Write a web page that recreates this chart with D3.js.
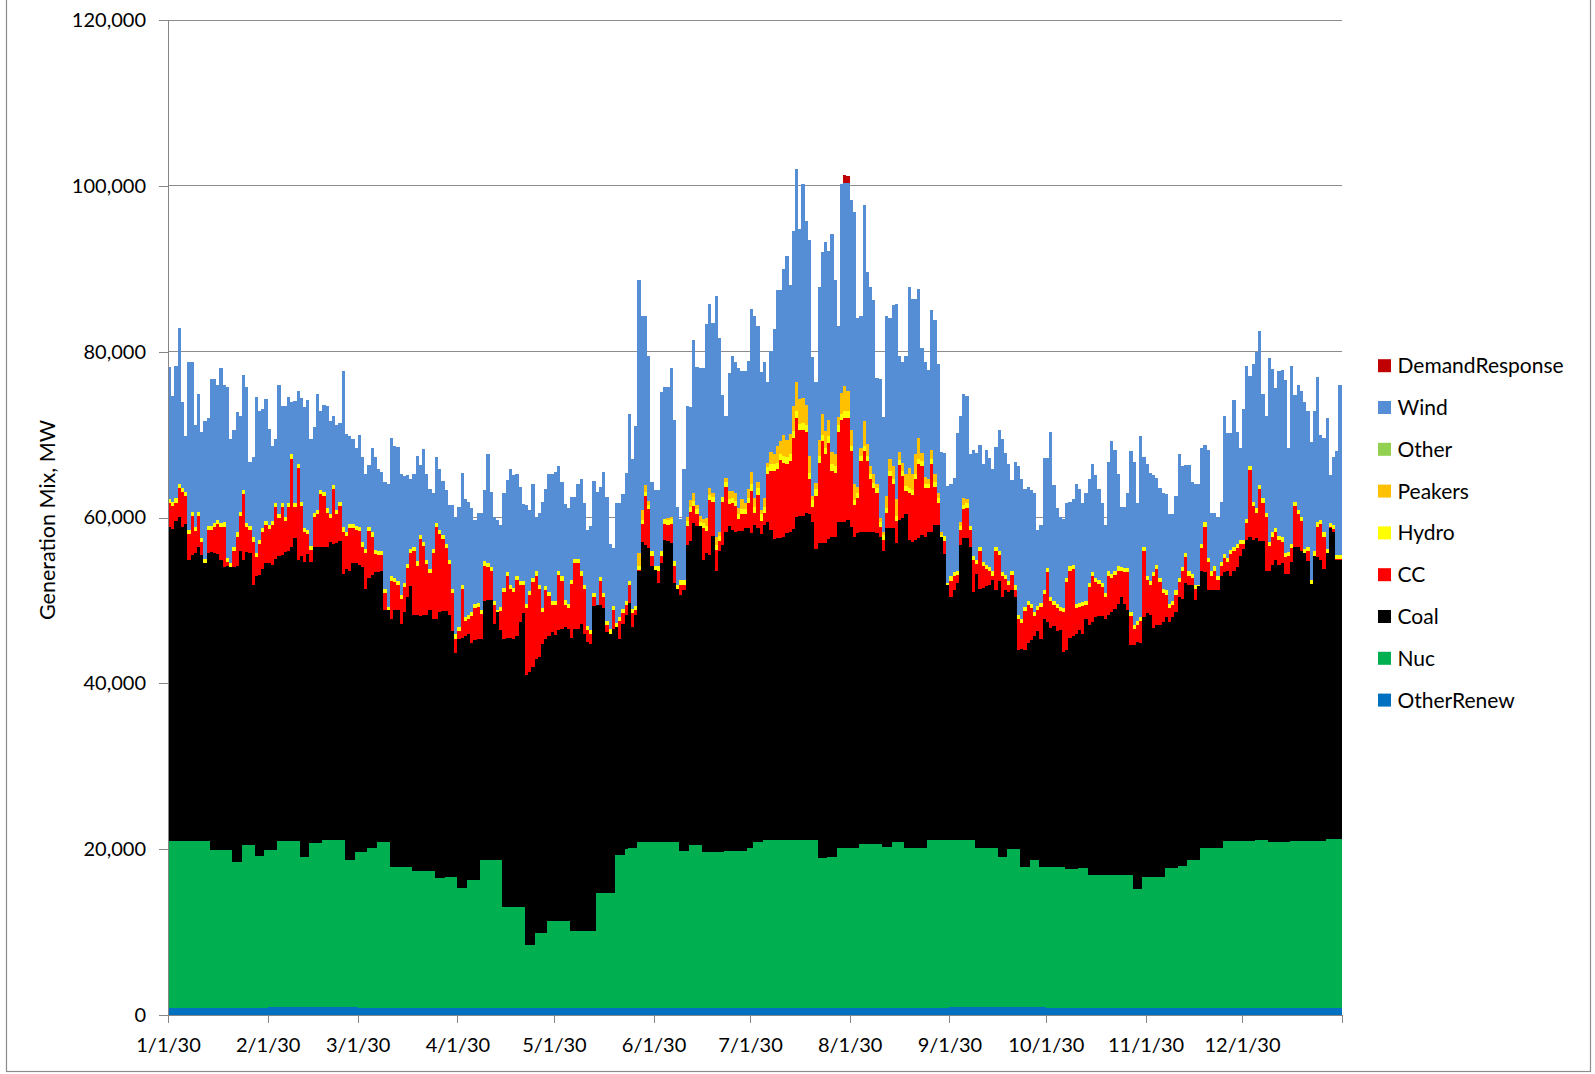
<!DOCTYPE html>
<html>
<head>
<meta charset="utf-8">
<script src="https://cdn.jsdelivr.net/npm/d3@7"></script>
<style>
  body { margin: 0; background: #fff; }
  svg { display: block; }
  text { font-family: Lato, "DejaVu Sans", sans-serif; fill: #000; }
</style>
</head>
<body>
<svg id="chart" width="1595" height="1074"></svg>
<script>
// stack order, bottom to top
const seriesNames = ["OtherRenew", "Nuc", "Coal", "CC", "Hydro", "Peakers", "Other", "Wind", "DemandResponse"];
const seriesColors = {
  OtherRenew: "#0070C0", Nuc: "#00B050", Coal: "#000000", CC: "#FF0000", Hydro: "#FFFF00",
  Peakers: "#FFC000", Other: "#92D050", Wind: "#558ED5", DemandResponse: "#C00000"
};
const legendNames = ["DemandResponse", "Wind", "Other", "Peakers", "Hydro", "CC", "Coal", "Nuc", "OtherRenew"];
const yTicks = [0, 20000, 40000, 60000, 80000, 100000, 120000];
const yTitle = "Generation Mix, MW";

// levels, thousand MW, one per day of 2030
// top of the coal block (OtherRenew + Nuc + Coal)
const coalTopK = [
  58.9, 58.6, 59.6, 60.1, 58.9, 59.2, 54.9, 55.5, 55.7, 56.4,
  55.5, 54.5, 55.7, 55.8, 55.7, 55.6, 54.9, 54.0, 54.1, 54.0,
  54.0, 54.2, 56.0, 54.9, 55.8, 55.7, 51.8, 52.9, 53.1, 53.8,
  54.5, 54.5, 54.3, 55.0, 55.4, 55.5, 55.8, 56.0, 56.5, 57.5,
  54.9, 55.4, 54.6, 55.6, 54.6, 56.4, 56.4, 56.4, 56.4, 56.4,
  57.0, 56.8, 56.9, 57.2, 53.2, 53.8, 53.6, 54.5, 54.5, 54.3,
  54.0, 51.4, 52.7, 53.1, 53.4, 53.4, 53.5, 48.9, 48.8, 47.8,
  48.8, 48.9, 47.2, 48.6, 50.4, 51.7, 48.3, 48.2, 48.1, 48.2,
  48.3, 48.8, 47.7, 47.7, 48.6, 48.7, 48.7, 48.3, 46.3, 43.6,
  45.3, 45.5, 45.7, 45.9, 44.9, 45.2, 45.3, 45.3, 49.9, 50.0,
  50.1, 47.1, 48.6, 46.4, 45.3, 45.5, 45.5, 45.3, 45.7, 47.4,
  48.5, 41.0, 41.4, 42.0, 42.9, 43.2, 44.7, 45.3, 45.7, 46.2,
  45.8, 46.4, 46.5, 46.8, 46.5, 45.5, 46.5, 46.5, 47.1, 45.9,
  45.0, 44.7, 49.3, 49.4, 49.4, 49.1, 46.2, 45.9, 46.5, 46.8,
  45.3, 47.1, 48.3, 49.7, 46.8, 48.3, 53.5, 57.1, 56.7, 56.3,
  54.2, 53.7, 52.1, 54.5, 57.3, 57.2, 56.9, 52.1, 51.4, 50.6,
  51.3, 56.7, 57.2, 59.3, 59.0, 59.0, 54.9, 55.7, 55.5, 57.8,
  53.6, 55.9, 56.7, 58.2, 59.0, 58.5, 58.2, 58.4, 58.4, 58.7,
  58.7, 58.1, 59.1, 58.7, 58.0, 59.1, 59.4, 58.5, 57.4, 57.5,
  57.5, 57.7, 58.1, 58.2, 58.6, 60.1, 60.2, 60.2, 60.6, 60.4,
  59.5, 56.2, 56.9, 56.9, 56.9, 57.4, 57.7, 57.7, 59.4, 59.5,
  59.5, 59.7, 58.9, 57.7, 58.1, 58.2, 58.2, 58.2, 58.2, 58.2,
  58.1, 57.7, 56.0, 58.7, 58.7, 58.7, 56.9, 59.7, 60.0, 60.4,
  57.3, 57.1, 57.3, 57.5, 57.9, 57.7, 58.2, 58.2, 59.1, 59.1,
  57.7, 55.6, 51.8, 50.4, 51.3, 52.1, 56.7, 57.5, 57.5, 56.5,
  51.0, 53.2, 51.4, 51.5, 51.7, 51.9, 52.5, 51.3, 52.4, 50.4,
  51.2, 51.0, 51.2, 50.4, 44.0, 44.1, 44.0, 44.9, 45.2, 45.7,
  46.3, 45.3, 47.7, 47.4, 46.7, 46.9, 46.3, 46.4, 43.8, 44.0,
  45.5, 45.7, 45.9, 46.4, 46.0, 47.7, 47.0, 47.4, 48.0, 48.1,
  48.1, 47.7, 48.3, 48.6, 49.0, 49.6, 50.4, 49.6, 48.8, 44.6,
  44.6, 45.0, 44.9, 48.0, 48.5, 48.2, 46.7, 47.0, 47.0, 47.4,
  48.0, 47.4, 48.0, 48.6, 50.4, 50.2, 52.1, 51.9, 51.8, 50.1,
  51.7, 53.5, 53.4, 51.3, 51.2, 51.3, 51.2, 53.0, 53.4, 53.6,
  53.0, 53.5, 54.0, 55.4, 56.2, 57.3, 57.6, 57.3, 57.5, 57.2,
  57.2, 53.5, 53.5, 54.3, 54.9, 54.3, 54.5, 53.2, 53.2, 54.6,
  56.4, 56.4, 56.0, 55.7, 54.7, 52.0, 55.4, 55.2, 54.9, 53.8,
  55.7, 58.7, 58.2, 54.9, 54.9
];

// top of the yellow cap (CC + Hydro on the coal block)
const ccHydroTopK = [
  62.2, 61.9, 62.3, 64.1, 63.6, 63.1, 58.5, 60.7, 58.9, 60.7,
  57.5, 55.0, 59.0, 59.0, 59.3, 59.7, 59.3, 59.4, 55.1, 54.5,
  56.5, 58.2, 60.7, 63.3, 59.3, 59.0, 57.6, 55.7, 57.3, 58.7,
  59.6, 59.1, 59.6, 61.8, 60.4, 61.8, 60.1, 61.8, 67.6, 61.8,
  66.5, 61.9, 58.7, 58.5, 56.6, 60.6, 60.9, 63.3, 63.1, 61.1,
  60.4, 63.9, 60.9, 61.9, 58.8, 58.3, 59.2, 59.2, 59.0, 58.9,
  57.0, 56.2, 58.9, 58.2, 56.1, 56.0, 56.0, 51.4, 49.2, 52.9,
  52.7, 52.4, 50.7, 52.1, 54.4, 56.2, 56.4, 54.7, 57.9, 57.1,
  54.9, 53.8, 56.2, 59.3, 58.5, 57.9, 56.8, 54.9, 51.4, 45.9,
  46.8, 51.9, 48.0, 48.2, 48.6, 49.6, 49.7, 48.9, 54.7, 54.5,
  54.0, 49.9, 48.8, 49.2, 51.5, 53.4, 51.9, 51.5, 53.0, 52.4,
  52.4, 49.6, 51.1, 52.7, 53.5, 51.9, 49.1, 51.7, 51.0, 49.9,
  49.9, 53.6, 52.9, 50.0, 49.6, 52.5, 55.0, 55.0, 53.5, 51.9,
  46.9, 46.4, 50.9, 49.4, 52.8, 50.9, 47.5, 46.5, 49.3, 47.3,
  48.0, 49.0, 49.9, 52.3, 49.0, 49.3, 54.2, 59.7, 63.1, 61.5,
  55.9, 54.2, 54.2, 56.0, 59.8, 59.7, 59.8, 54.8, 51.9, 52.5,
  52.5, 59.6, 61.3, 62.0, 61.0, 59.4, 59.3, 59.0, 62.7, 62.5,
  56.7, 57.8, 62.5, 64.3, 62.2, 62.4, 62.0, 60.4, 61.0, 61.0,
  62.4, 64.0, 61.3, 63.5, 60.4, 61.3, 66.1, 66.4, 66.4, 66.6,
  67.7, 67.4, 67.3, 67.6, 70.4, 72.8, 71.3, 71.4, 71.1, 65.4,
  62.1, 63.4, 67.4, 70.0, 68.4, 69.8, 66.4, 66.2, 71.1, 72.5,
  72.8, 72.8, 68.6, 62.1, 62.9, 67.4, 68.6, 67.4, 65.2, 64.2,
  63.5, 59.5, 57.9, 61.1, 65.6, 64.7, 60.2, 66.9, 65.6, 63.8,
  63.5, 63.3, 65.2, 67.1, 66.8, 64.1, 64.1, 67.1, 64.3, 62.4,
  57.9, 57.8, 52.1, 52.9, 53.4, 53.6, 59.0, 61.5, 61.7, 59.0,
  55.4, 54.9, 56.5, 54.6, 54.3, 54.0, 53.5, 56.5, 56.0, 53.4,
  53.1, 52.4, 53.6, 51.8, 48.2, 47.8, 49.2, 49.9, 49.6, 48.6,
  49.3, 49.7, 51.3, 53.9, 50.4, 49.9, 49.6, 49.2, 49.1, 52.7,
  54.1, 54.3, 49.6, 49.7, 49.8, 49.9, 52.1, 53.4, 52.7, 52.5,
  52.1, 50.9, 53.5, 53.2, 53.6, 54.1, 54.0, 53.9, 53.9, 48.6,
  47.0, 47.5, 48.0, 56.4, 53.0, 52.4, 53.4, 54.3, 52.7, 51.4,
  51.2, 49.6, 49.9, 51.2, 52.7, 54.0, 55.7, 53.5, 53.2, 51.9,
  51.9, 56.8, 59.4, 55.1, 53.5, 54.1, 53.0, 54.6, 55.6, 55.1,
  56.1, 56.4, 56.8, 57.3, 57.3, 59.8, 66.2, 61.9, 61.1, 63.9,
  62.3, 60.6, 57.1, 58.2, 58.7, 57.8, 57.6, 55.7, 55.8, 56.8,
  61.9, 60.9, 60.1, 56.2, 56.4, 52.5, 55.9, 59.4, 59.7, 58.2,
  56.2, 59.3, 59.1, 55.5, 55.5
];

// top of the blue wind block
const windTopK = [
  78.2, 74.6, 78.3, 82.9, 73.9, 69.8, 78.8, 78.8, 71.2, 74.9,
  70.3, 71.6, 72.0, 76.7, 76.7, 76.0, 78.0, 76.0, 75.7, 69.5,
  70.5, 72.7, 72.3, 77.2, 75.7, 66.7, 67.3, 74.5, 72.9, 73.1,
  74.3, 70.7, 68.6, 69.5, 76.0, 73.5, 73.4, 74.5, 73.9, 74.0,
  75.3, 74.4, 73.3, 74.2, 69.5, 70.9, 74.9, 72.9, 73.6, 73.4,
  71.6, 72.3, 71.2, 71.4, 77.7, 70.1, 69.8, 69.5, 68.4, 69.9,
  67.3, 65.2, 66.3, 68.4, 67.3, 65.9, 65.5, 64.3, 64.0, 69.6,
  68.6, 68.5, 65.2, 65.0, 65.1, 64.6, 65.2, 67.4, 66.3, 68.3,
  65.2, 63.4, 62.9, 67.3, 65.9, 64.4, 63.3, 61.5, 61.5, 60.1,
  61.3, 65.4, 62.2, 61.9, 61.1, 59.7, 60.6, 60.6, 63.3, 67.7,
  63.1, 60.1, 59.7, 59.1, 63.0, 64.5, 65.9, 65.1, 65.2, 63.7,
  61.6, 61.5, 60.9, 64.0, 60.1, 60.6, 61.9, 63.4, 65.2, 65.2,
  65.5, 66.2, 64.3, 61.6, 61.2, 62.5, 62.5, 64.0, 64.6, 61.8,
  58.5, 59.0, 64.4, 63.1, 63.7, 65.5, 62.5, 56.8, 56.3, 61.8,
  61.8, 62.8, 65.4, 72.5, 67.0, 71.0, 88.7, 84.3, 84.3, 79.5,
  64.3, 63.3, 63.3, 75.1, 75.7, 75.7, 78.0, 71.7, 61.3, 59.8,
  65.9, 73.5, 73.3, 81.4, 78.2, 78.0, 78.0, 83.3, 85.8, 83.5,
  86.7, 81.7, 74.8, 72.3, 77.4, 79.5, 78.8, 78.0, 77.7, 77.7,
  78.9, 85.2, 84.3, 83.1, 77.6, 78.8, 76.3, 80.1, 82.7, 87.4,
  87.4, 90.0, 91.5, 88.0, 94.6, 102.0, 94.8, 100.2, 95.7, 93.5,
  79.3, 76.3, 87.8, 92.0, 93.2, 92.2, 94.2, 88.6, 83.1, 100.2,
  100.3, 100.3, 98.3, 96.9, 84.1, 84.3, 97.7, 89.6, 87.8, 86.2,
  76.8, 76.7, 72.1, 84.3, 84.1, 85.6, 85.8, 79.5, 78.7, 79.5,
  87.8, 86.3, 86.3, 87.5, 80.5, 78.8, 77.8, 85.0, 83.8, 78.5,
  67.9, 67.8, 63.8, 64.0, 64.8, 70.2, 72.3, 74.9, 74.6, 67.6,
  68.1, 67.8, 68.8, 66.5, 68.1, 67.2, 65.9, 68.5, 70.6, 69.5,
  67.8, 66.5, 64.5, 66.7, 66.2, 64.6, 63.4, 63.7, 63.3, 63.0,
  58.5, 59.1, 67.2, 67.2, 70.3, 63.9, 61.1, 60.1, 59.8, 61.7,
  61.9, 62.2, 64.0, 63.4, 61.8, 62.9, 64.6, 66.5, 65.1, 63.4,
  61.8, 59.1, 66.7, 69.2, 68.1, 65.2, 61.3, 61.3, 62.9, 68.0,
  66.7, 61.8, 69.8, 67.3, 66.5, 65.4, 65.1, 64.8, 63.5, 62.9,
  62.8, 60.4, 60.4, 62.6, 67.6, 66.2, 66.3, 66.3, 64.3, 64.0,
  64.0, 68.4, 68.8, 68.1, 60.6, 60.6, 60.1, 61.9, 72.2, 70.2,
  70.2, 74.2, 70.3, 68.4, 73.1, 78.3, 77.1, 78.5, 79.9, 82.5,
  74.9, 72.2, 79.2, 77.9, 75.6, 77.7, 77.8, 76.6, 68.4, 78.3,
  74.8, 76.0, 75.3, 73.9, 72.8, 69.1, 72.8, 77.0, 69.9, 69.6,
  72.0, 65.1, 67.3, 68.0, 76.0
];

// step levels [first day, thousand MW]
const otherRenewSteps = [[0, 0.9], [31, 0.95], [59, 0.9], [90, 0.8], [120, 0.85], [151, 0.9], [243, 0.95], [273, 0.8], [304, 0.85], [334, 0.9]];
// top of the green block (OtherRenew + Nuc)
const nucTopSteps = [
  [0, 21.0], [13, 19.9], [20, 18.5], [23, 20.5], [27, 19.2], [30, 19.9], [34, 21.0], [41, 19.1],
  [44, 20.7], [48, 21.1], [55, 18.7], [58, 19.7], [62, 20.1], [65, 20.9], [69, 17.8], [76, 17.4],
  [83, 16.5], [86, 16.6], [90, 15.3], [93, 16.3], [97, 18.7], [104, 13.0], [111, 8.4], [114, 9.9],
  [118, 11.3], [125, 10.1], [133, 14.7], [139, 19.3], [142, 20.0], [143, 20.1], [146, 20.9], [159, 19.8],
  [162, 20.5], [166, 19.7], [173, 19.8], [180, 20.1], [182, 20.9], [185, 21.1], [202, 18.9], [205, 19.1],
  [208, 20.1], [215, 20.6], [222, 20.3], [225, 20.9], [229, 20.1], [236, 21.1], [251, 20.2], [258, 19.1],
  [261, 20.0], [265, 17.8], [268, 18.7], [271, 17.8], [279, 17.6], [283, 17.7], [286, 16.9], [300, 15.2],
  [303, 16.6], [310, 17.7], [314, 18.0], [317, 18.7], [321, 20.2], [328, 21.0], [338, 21.1], [342, 20.9],
  [349, 21.0], [360, 21.2]
];
const hydroSteps = [[0, 0.5], [151, 0.6], [181, 0.8], [212, 0.6], [243, 0.5]];

// sparse days [day, thousand MW]
const peakersK = [
  [146, 1.5], [147, 1.2], [148, 0.8], [149, 0.5], [155, 0.3], [156, 0.3], [161, 0.5], [162, 0.8],
  [163, 1.0], [164, 0.5], [165, 0.8], [166, 0.5], [167, 1.0], [168, 0.8], [169, 0.5], [170, 1.0],
  [171, 0.5], [173, 0.5], [174, 1.0], [175, 0.8], [176, 1.0], [177, 0.8], [178, 1.2], [179, 0.8],
  [180, 1.0], [181, 1.5], [182, 1.0], [183, 0.8], [184, 0.5], [185, 1.0], [186, 0.5], [187, 1.5],
  [188, 1.2], [189, 2.0], [190, 1.5], [191, 2.5], [192, 2.0], [193, 2.5], [194, 3.0], [195, 3.5],
  [196, 3.0], [197, 3.0], [198, 2.5], [199, 2.0], [200, 0.5], [201, 0.8], [202, 2.0], [203, 2.5],
  [204, 2.0], [205, 2.0], [206, 1.5], [207, 1.5], [208, 1.0], [209, 2.5], [210, 3.0], [211, 2.5],
  [212, 2.0], [213, 2.0], [214, 0.8], [215, 1.0], [216, 3.0], [217, 1.5], [218, 1.0], [219, 1.0],
  [220, 0.5], [221, 0.5], [222, 0.3], [223, 1.5], [224, 1.5], [225, 1.5], [226, 2.0], [227, 1.0],
  [228, 1.0], [229, 1.5], [230, 2.5], [231, 2.0], [232, 2.5], [233, 2.5], [234, 1.0], [235, 0.8],
  [236, 0.5], [237, 1.0], [238, 1.0], [239, 0.5], [240, 0.3], [246, 0.5], [247, 0.8], [248, 0.5]
];
const otherK = []; // nothing visible in the picture
const demandResponseK = [[210, 1.0], [211, 0.9]];

const W = 1595, H = 1074;
const plot = { left: 168, right: 1341.7, top: 20, bottom: 1015 };
const start = new Date(2030, 0, 1), end = new Date(2031, 0, 1);

const svg = d3.select("#chart");
svg.append("rect").attr("width", W).attr("height", H).attr("fill", "#fff");
// chart border, top edge sits off the picture
svg.append("rect")
  .attr("x", 6.5).attr("y", -1).attr("width", 1584).attr("height", 1072.5)
  .attr("fill", "none").attr("stroke", "#8c8c8c").attr("stroke-width", 1.2);

const x = d3.scaleTime().domain([start, end]).range([plot.left, plot.right]);
const y = d3.scaleLinear().domain([0, 120000]).range([plot.bottom, plot.top]);

function stepAt(steps, d) {
  let v = steps[0][1];
  steps.forEach(([s, val]) => { if (d >= s) v = val; });
  return v;
}
const peakMap = new Map(peakersK), otherMap = new Map(otherK), drMap = new Map(demandResponseK);

const rows = coalTopK.map((c, d) => {
  const orn = stepAt(otherRenewSteps, d);
  const nucTop = stepAt(nucTopSteps, d);
  const cap = Math.max(0, ccHydroTopK[d] - c);
  const hyd = Math.min(stepAt(hydroSteps, d), cap);
  const pk = peakMap.get(d) || 0;
  const oth = otherMap.get(d) || 0;
  const wind = Math.max(0, windTopK[d] - ccHydroTopK[d] - pk - oth);
  return {
    date: d3.timeDay.offset(start, d),
    OtherRenew: orn * 1000,
    Nuc: (nucTop - orn) * 1000,
    Coal: (c - nucTop) * 1000,
    CC: (cap - hyd) * 1000,
    Hydro: hyd * 1000,
    Peakers: pk * 1000,
    Other: oth * 1000,
    Wind: wind * 1000,
    DemandResponse: (drMap.get(d) || 0) * 1000
  };
});

// gridlines
svg.append("g").selectAll("line")
  .data(yTicks.filter(v => v > 0))
  .join("line")
  .attr("x1", plot.left).attr("x2", plot.right)
  .attr("y1", d => y(d)).attr("y2", d => y(d))
  .attr("stroke", "#8c8c8c").attr("stroke-width", 1)
  .attr("shape-rendering", "crispEdges");

// stacked daily columns
const stacked = d3.stack().keys(seriesNames)(rows);
svg.append("g").attr("shape-rendering", "crispEdges")
  .selectAll("g")
  .data(stacked)
  .join("g")
  .attr("fill", s => seriesColors[s.key])
  .selectAll("rect")
  .data(s => s.filter(p => p[1] - p[0] > 0))
  .join("rect")
  .attr("x", p => x(p.data.date))
  .attr("width", p => x(d3.timeDay.offset(p.data.date, 1)) - x(p.data.date))
  .attr("y", p => y(p[1]))
  .attr("height", p => y(p[0]) - y(p[1]));

// axes
const fmtDate = d3.timeFormat("%-m/%-d/%y");
const xTicks = d3.timeMonth.range(start, end).concat([end]);
const xAxis = svg.append("g")
  .attr("transform", `translate(0,${plot.bottom})`)
  .call(d3.axisBottom(x).tickValues(xTicks).tickSizeInner(8).tickSizeOuter(0).tickPadding(15)
    .tickFormat(d => d >= end ? "" : fmtDate(d)));
const yAxis = svg.append("g")
  .attr("transform", `translate(${plot.left},0)`)
  .call(d3.axisLeft(y).tickValues(yTicks).tickSizeInner(9).tickSizeOuter(0).tickPadding(13)
    .tickFormat(d3.format(",")));
[xAxis, yAxis].forEach(a => {
  a.selectAll("path, line").attr("stroke", "#868686").attr("shape-rendering", "crispEdges");
  a.selectAll("text").attr("font-size", 20).attr("font-family", "Lato").attr("fill", "#000");
});

svg.append("text")
  .attr("transform", "translate(55,520) rotate(-90)")
  .attr("text-anchor", "middle")
  .attr("font-size", 21)
  .attr("textLength", 200)
  .attr("lengthAdjust", "spacingAndGlyphs")
  .text(yTitle);

// legend
const legend = svg.append("g").selectAll("g")
  .data(legendNames)
  .join("g")
  .attr("transform", (d, i) => `translate(1378,${365.7 + i * 41.8})`);
legend.append("rect")
  .attr("x", 0).attr("y", -6.5).attr("width", 13).attr("height", 13)
  .attr("fill", d => seriesColors[d]);
legend.append("text")
  .attr("x", 19.5).attr("dy", "0.36em")
  .attr("font-size", 21)
  .text(d => d);
</script>
</body>
</html>
